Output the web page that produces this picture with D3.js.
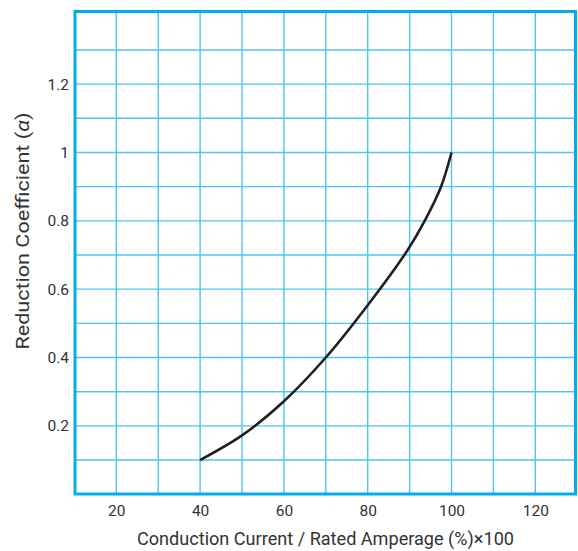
<!DOCTYPE html>
<html><head><meta charset="utf-8">
<script src="https://cdn.jsdelivr.net/npm/d3@7"></script>
<style>body{margin:0;background:#fff}svg{display:block}</style>
</head><body>
<svg id="c" width="578" height="551"></svg>
<script>
const xTicks = [20, 40, 60, 80, 100, 120];
const yTicks = [0.2, 0.4, 0.6, 0.8, 1, 1.2];
const xGrid = [20, 30, 40, 50, 60, 70, 80, 90, 100, 110, 120];
const yGrid = [0.1, 0.2, 0.3, 0.4, 0.5, 0.6, 0.7, 0.8, 0.9, 1.0, 1.1, 1.2, 1.3];
const currentPct = [40, 50, 60, 70, 80, 89.4, 93.6, 97.5, 100];
const coeff =      [0.1, 0.172, 0.272, 0.4, 0.553, 0.712, 0.8, 0.9, 1.0];
const xTitle = "Conduction Current / Rated Amperage (%)\u00d7100";

const svg = d3.select("#c");
const x = d3.scaleLinear().domain([10, 130]).range([74.4, 577.2]);
const y = d3.scaleLinear().domain([0, 1.4]).range([494.2, 15.8]);
const gridColor = "#4fc4f1";
const frameColor = "#00aeef";
const textColor = "#333333";
const font = "Roboto, 'Noto Sans', sans-serif";

// grid
svg.append("g").selectAll("line").data(xGrid).join("line")
  .attr("x1", d => x(d)).attr("x2", d => x(d))
  .attr("y1", 11).attr("y2", 494)
  .attr("stroke", gridColor).attr("stroke-width", 1.4);
svg.append("g").selectAll("line").data(yGrid).join("line")
  .attr("x1", 74.5).attr("x2", 575.5)
  .attr("y1", d => y(d)).attr("y2", d => y(d))
  .attr("stroke", gridColor).attr("stroke-width", 1.4);

// frame
svg.append("rect").attr("x", 75).attr("y", 11.5).attr("width", 500.5).attr("height", 482.5)
  .attr("fill", "none").attr("stroke", frameColor).attr("stroke-width", 3);

// axes (labels only)
const xAxis = d3.axisBottom(x).tickValues(xTicks).tickSize(0).tickPadding(11).tickFormat(d3.format("d"));
const gx = svg.append("g").attr("transform", "translate(0,494)").call(xAxis);
gx.select(".domain").remove();
gx.selectAll("text").attr("font-family", font).attr("font-size", 15.5).attr("fill", textColor);

const yAxis = d3.axisLeft(y).tickValues(yTicks).tickSize(0).tickPadding(5).tickFormat(d => d === 1 ? "1" : d3.format(".1f")(d));
const gy = svg.append("g").attr("transform", "translate(74,0)").call(yAxis);
gy.select(".domain").remove();
gy.selectAll("text").attr("font-family", font).attr("font-size", 15.5).attr("fill", textColor);

// curve
const line = d3.line().x((d, i) => x(currentPct[i])).y(d => y(d)).curve(d3.curveCatmullRom.alpha(0.5));
svg.append("path").datum(coeff).attr("d", line)
  .attr("fill", "none").attr("stroke", "#231f20").attr("stroke-width", 2.6).attr("stroke-linecap", "butt");

// titles
svg.append("text").attr("x", 325.5).attr("y", 545).attr("text-anchor", "middle")
  .attr("font-family", font).attr("font-size", 18).attr("fill", textColor)
  .attr("textLength", 377).attr("lengthAdjust", "spacingAndGlyphs")
  .text(xTitle);

const yt = svg.append("text").attr("transform", "translate(29,231) rotate(-90)")
  .attr("text-anchor", "middle").attr("font-family", font).attr("font-size", 17.5).attr("fill", textColor)
  .attr("textLength", 237).attr("lengthAdjust", "spacingAndGlyphs");
yt.append("tspan").text("Reduction Coefficient (");
yt.append("tspan").attr("font-style", "italic").text("\u03b1");
yt.append("tspan").text(")");
</script>
</body></html>
